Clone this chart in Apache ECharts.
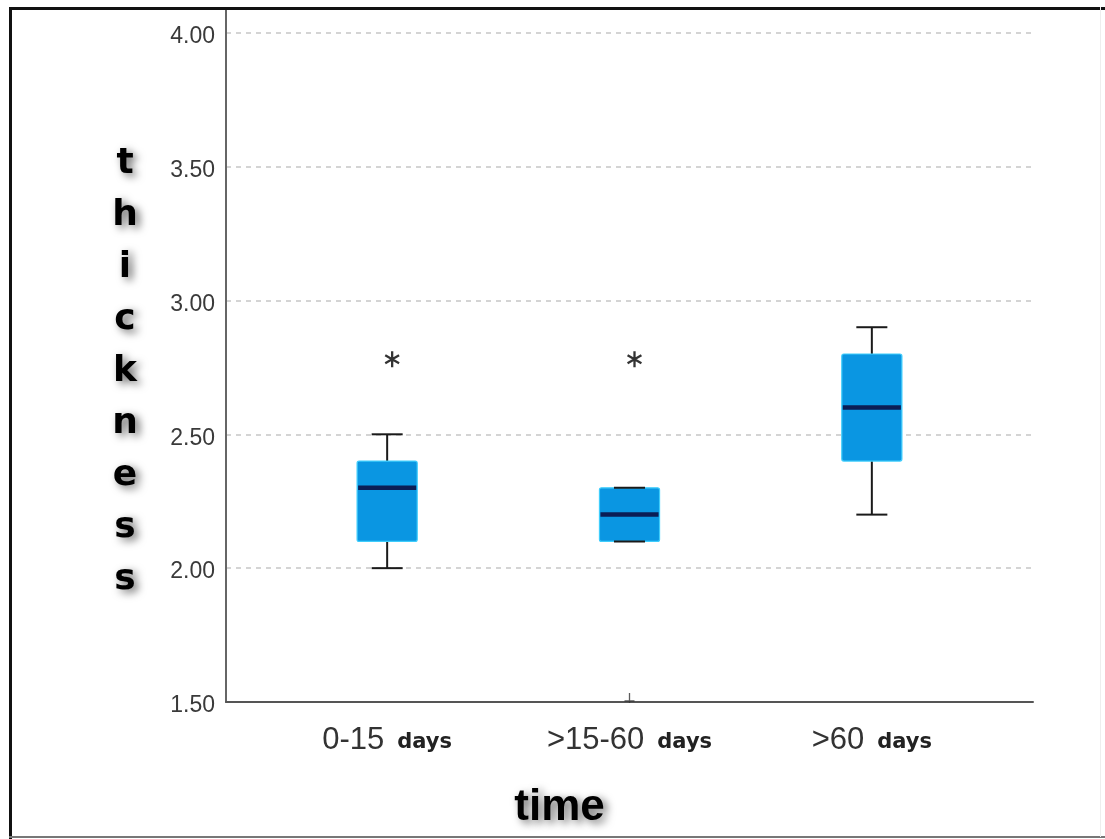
<!DOCTYPE html>
<html>
<head>
<meta charset="utf-8">
<script src="https://cdn.jsdelivr.net/npm/echarts@6.0.0/dist/echarts.min.js"></script>
<style>
  html, body { margin: 0; padding: 0; background: #fff; }
  #wrap { position: relative; width: 1105px; height: 839px; overflow: hidden; }
  #chart { position: absolute; left: 0; top: 0; width: 1105px; height: 839px; }
  .frame { position: absolute; pointer-events: none; }
</style>
</head>
<body>
<div id="wrap">
  <div id="chart"></div>
  <div class="frame" style="left:9px; top:7px; width:1096px; height:3px; background:#111;"></div>
  <div class="frame" style="left:9px; top:7px; width:3px; height:832px; background:#111;"></div>
  <div class="frame" style="left:9px; top:836px; width:1096px; height:2px; background:#777;"></div>
  <div class="frame" style="left:1100px; top:7px; width:1px; height:830px; background:#eee;"></div>
</div>
<script>
// ---- data ----
const categories = ['0-15', '>15-60', '>60'];
const unitLabel = 'days';
const categoryPos = [1, 2, 3];
const whiskerLow = [2.0, 2.1, 2.2];
const q1 = [2.1, 2.1, 2.4];
const median = [2.3, 2.2, 2.6];
const q3 = [2.4, 2.3, 2.8];
const whiskerHigh = [2.5, 2.3, 2.9];
const extremeOutliers = [[1, 2.78], [2, 2.78]];
const outliers = [[2, 1.5]];
const yTicks = [1.5, 2.0, 2.5, 3.0, 3.5, 4.0];
const yTitle = 'thickness';
const xTitle = 'time';

const boxData = categoryPos.map((p, i) => [p, whiskerLow[i], q1[i], median[i], q3[i], whiskerHigh[i]]);

const chart = echarts.init(document.getElementById('chart'), null, { renderer: 'canvas' });

const titleShadow = {
  textShadowColor: 'rgba(0,0,0,0.6)',
  textShadowBlur: 9,
  textShadowOffsetX: 4,
  textShadowOffsetY: 3
};

const option = {
  backgroundColor: '#ffffff',
  animation: false,
  title: {
    text: yTitle.split('').join('\n'),
    left: 125,
    top: 138,
    padding: 0,
    textAlign: 'center',
    textStyle: Object.assign({
      fontFamily: 'DejaVu Sans, Liberation Sans, sans-serif',
      fontSize: 36, fontWeight: 'bold', color: '#000',
      lineHeight: 52
    }, titleShadow)
  },
  grid: {
    left: 226, right: 72, top: 10, bottom: 137,
    containLabel: false, outerBoundsMode: 'none'
  },
  xAxis: {
    type: 'value',
    min: 0.335, max: 3.665,
    name: xTitle,
    nameLocation: 'middle',
    nameGap: 106,
    nameMoveOverlap: false,
    nameTextStyle: Object.assign({
      fontFamily: 'Liberation Sans, Arial, sans-serif',
      fontSize: 44, fontWeight: 'bold', color: '#000',
      align: 'center', verticalAlign: 'middle',
      padding: [0, 140, 0, 0]
    }, titleShadow),
    axisLine: { show: true, onZero: false, lineStyle: { color: '#555', width: 2 } },
    axisTick: { show: false, customValues: categoryPos },
    splitLine: { show: false },
    axisLabel: {
      customValues: categoryPos,
      margin: 18,
      formatter: v => '{a|' + categories[Math.round(v) - 1] + '}{b|' + unitLabel + '}',
      rich: {
        a: { fontFamily: 'Liberation Sans, Arial, sans-serif', fontSize: 31, color: '#333', verticalAlign: 'bottom', lineHeight: 36 },
        b: { fontFamily: 'DejaVu Sans, Liberation Sans, sans-serif', fontSize: 21, fontWeight: 'bold', color: '#222', verticalAlign: 'bottom', lineHeight: 36, padding: [0, 0, 3, 13] }
      }
    }
  },
  yAxis: {
    type: 'value',
    min: 1.5, max: 4.085,
    axisLine: { show: true, onZero: false, lineStyle: { color: '#666', width: 2 } },
    axisTick: { show: false, customValues: yTicks },
    splitLine: { show: true, lineStyle: { color: '#c6c6c6', width: 1.5, type: [5, 5] } },
    axisLabel: {
      customValues: yTicks,
      margin: 11,
      formatter: v => '{v|' + Number(v).toFixed(2) + '}',
      rich: {
        v: {
          fontFamily: 'Liberation Sans, Arial, sans-serif',
          fontSize: 23,
          color: '#3a3a3a',
          padding: [8, 0, 0, 0]
        }
      }
    }
  },
  series: [
    {
      type: 'custom',
      name: 'thickness',
      data: boxData,
      encode: { x: 0, y: [1, 2, 3, 4, 5] },
      clip: false,
      renderItem: function (params, api) {
        const x = api.value(0);
        const pMin = api.coord([x, api.value(1)]);
        const pQ1 = api.coord([x, api.value(2)]);
        const pMed = api.coord([x, api.value(3)]);
        const pQ3 = api.coord([x, api.value(4)]);
        const pMax = api.coord([x, api.value(5)]);
        const cx = pMin[0];
        const boxW = api.size([0.248, 0])[0];
        const capW = api.size([0.128, 0])[0];
        const whisk = { stroke: '#1a1a1a', lineWidth: 2 };
        return {
          type: 'group',
          children: [
            { type: 'line', shape: { x1: cx, y1: pMax[1], x2: cx, y2: pQ3[1] }, style: whisk },
            { type: 'line', shape: { x1: cx, y1: pQ1[1], x2: cx, y2: pMin[1] }, style: whisk },
            { type: 'rect', shape: { x: cx - boxW / 2, y: pQ3[1], width: boxW, height: pQ1[1] - pQ3[1], r: 2 },
              style: { fill: '#0a96e2', stroke: '#3fcdfc', lineWidth: 1.2 } },
            { type: 'line', shape: { x1: cx - capW / 2, y1: pMax[1], x2: cx + capW / 2, y2: pMax[1] }, style: whisk },
            { type: 'line', shape: { x1: cx - capW / 2, y1: pMin[1], x2: cx + capW / 2, y2: pMin[1] }, style: whisk },
            { type: 'line', shape: { x1: cx - boxW / 2 + 1, y1: pMed[1], x2: cx + boxW / 2 - 1, y2: pMed[1] },
              style: { stroke: '#0b1d55', lineWidth: 4.5 } }
          ]
        };
      }
    },
    {
      type: 'scatter',
      name: 'extreme',
      data: extremeOutliers,
      symbol: 'path://M10,0 L10,20 M1.34,5 L18.66,15 M1.34,15 L18.66,5',
      symbolSize: 16,
      symbolKeepAspect: true,
      symbolOffset: [5, 0],
      itemStyle: { color: 'rgba(0,0,0,0)', borderColor: '#000', borderWidth: 2.3 },
      z: 5
    },
    {
      type: 'scatter',
      name: 'outlier',
      data: outliers,
      symbol: 'path://M5,0 L5,10 M0,8 L10,8',
      symbolSize: 10,
      symbolKeepAspect: true,
      symbolOffset: [0, -4],
      itemStyle: { color: 'rgba(0,0,0,0)', borderColor: '#333', borderWidth: 1.3 },
      clip: false,
      z: 5
    }
  ]
};

chart.setOption(option);
</script>
</body>
</html>
